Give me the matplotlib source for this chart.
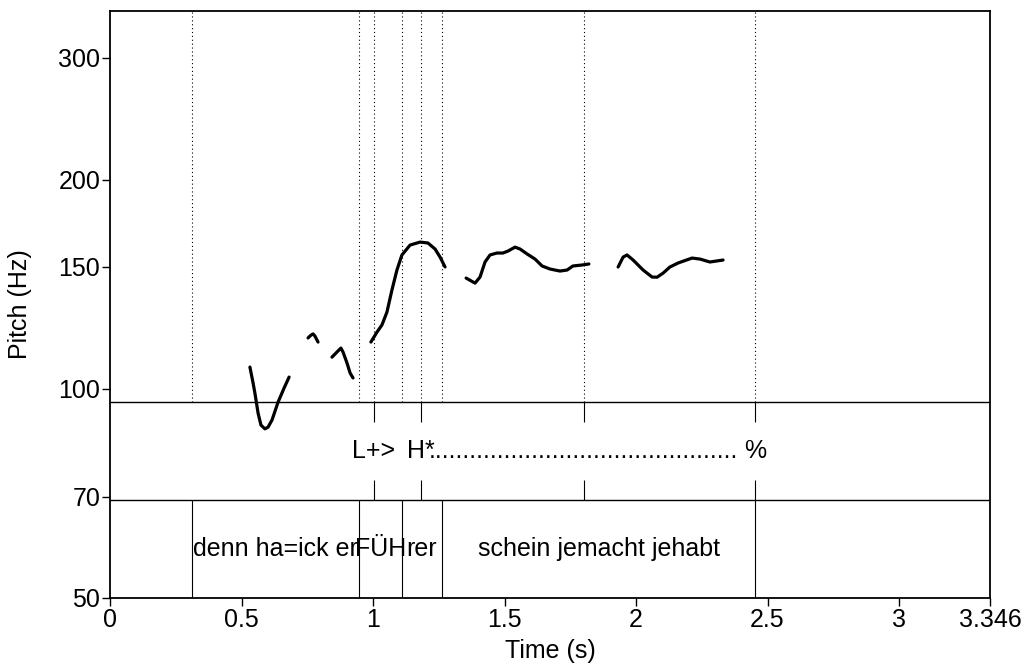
import numpy as np
import matplotlib
matplotlib.use("Agg")
import matplotlib.pyplot as plt

plt.rcParams['font.family'] = ['Liberation Sans', 'DejaVu Sans']

# Pitch contour pieces (time in s, F0 in Hz)
seg1_t = [0.532, 0.544, 0.551, 0.563, 0.574, 0.589, 0.601, 0.616, 0.639, 0.662, 0.681]
seg1_f = [107.5, 102.0, 98.6, 92.3, 88.7, 87.6, 88.1, 90.2, 95.7, 100.3, 104.0]
seg2_t = [0.753, 0.764, 0.772, 0.779, 0.791]
seg2_f = [118.4, 119.5, 120.0, 119.2, 116.8]
seg3_t = [0.844, 0.863, 0.878, 0.886, 0.901, 0.913, 0.924]
seg3_f = [111.1, 113.0, 114.5, 113.0, 109.0, 105.4, 103.7]
seg4_t = [0.992, 1.015, 1.034, 1.053, 1.072, 1.091, 1.110, 1.141, 1.179, 1.209, 1.236, 1.255, 1.274]
seg4_f = [116.8, 120.7, 123.6, 129.0, 138.8, 148.3, 155.9, 161.1, 162.7, 162.2, 159.0, 154.8, 149.8]
seg5_t = [1.354, 1.388, 1.407, 1.426, 1.445, 1.471, 1.494, 1.513, 1.540, 1.559, 1.586, 1.616,
          1.643, 1.673, 1.711, 1.738, 1.760, 1.795, 1.821]
seg5_f = [144.4, 142.0, 144.9, 152.3, 155.9, 156.9, 156.9, 157.9, 160.0, 159.0, 156.4, 153.8,
          150.3, 148.8, 147.8, 148.3, 150.3, 150.8, 151.3]
seg6_t = [1.932, 1.951, 1.966, 1.989, 2.027, 2.061, 2.080, 2.103, 2.129, 2.160, 2.213, 2.243, 2.281, 2.331]
seg6_f = [149.8, 154.8, 155.9, 153.3, 148.3, 144.9, 144.8, 146.8, 149.8, 151.8, 154.3, 153.8, 152.3, 153.3]

# TextGrid: tone tier (points) and word tier (intervals)
tone_times = [1.003, 1.181, 1.802, 2.452]
tone_labels = ["L+>", "H*", "." * 45, "%"]
word_bounds = [0.0, 0.310, 0.946, 1.110, 1.263, 2.452, 3.346]
word_labels = ["", "denn ha=ick er", "FÜH", "rer", "schein jemacht jehabt", ""]

t_end = 3.346
yticks = [50, 70, 100, 150, 200, 300]
xticks = [0, 0.5, 1, 1.5, 2, 2.5, 3, 3.346]
xticklabels = ["0", "0.5", "1", "1.5", "2", "2.5", "3", "3.346"]

fs = 18

fig = plt.figure(figsize=(10.24, 6.63), dpi=100)
ax = fig.add_axes([110 / 1024, 65 / 663, 880 / 1024, 587 / 663])

ax.set_yscale('log')
ax.set_xlim(0, t_end)
ax.set_ylim(50, 350)

segs = [(seg1_t, seg1_f), (seg2_t, seg2_f), (seg3_t, seg3_f),
        (seg4_t, seg4_f), (seg5_t, seg5_f), (seg6_t, seg6_f)]
for t, f in segs:
    ax.plot(t, f, color='black', lw=2.3, solid_capstyle='round', solid_joinstyle='round')

xt = ax.get_xaxis_transform()
tier_top = 1 / 3
tier_mid = 1 / 6
tick_h = 0.034

# tier separators
ax.plot([0, t_end], [tier_top, tier_top], color='black', lw=1.0, transform=xt)
ax.plot([0, t_end], [tier_mid, tier_mid], color='black', lw=1.0, transform=xt)

# dotted boundary lines over the pitch area
all_bounds = sorted(set(tone_times) | set(word_bounds[1:-1]))
ax.vlines(all_bounds, tier_top, 1, transform=xt, colors='black', lw=0.8,
          linestyles=(0, (1, 2.5)))

# tone tier point marks and labels
ax.vlines(tone_times, tier_top - tick_h, tier_top, transform=xt, colors='black', lw=0.8)
ax.vlines(tone_times, tier_mid, tier_mid + tick_h, transform=xt, colors='black', lw=0.8)
for t, lab in zip(tone_times, tone_labels):
    ax.text(t, (tier_top + tier_mid) / 2, lab, transform=xt, ha='center', va='center', fontsize=fs)

# word tier boundaries and labels
ax.vlines(word_bounds[1:-1], 0, tier_mid, transform=xt, colors='black', lw=0.8)
for i, lab in enumerate(word_labels):
    if lab:
        mid = (word_bounds[i] + word_bounds[i + 1]) / 2
        ax.text(mid, tier_mid / 2, lab, transform=xt, ha='center', va='center', fontsize=fs)

ax.set_yticks(yticks)
ax.set_yticklabels([str(v) for v in yticks])
ax.yaxis.set_minor_locator(matplotlib.ticker.NullLocator())
ax.set_xticks(xticks)
ax.set_xticklabels(xticklabels)
ax.tick_params(direction='out', length=6, width=1, labelsize=fs, pad=1)

for sp in ax.spines.values():
    sp.set_linewidth(1.3)

ax.set_xlabel("Time (s)", fontsize=fs, labelpad=5)
ax.set_ylabel("Pitch (Hz)", fontsize=fs, labelpad=19)

fig.savefig("out.png", dpi=100)
